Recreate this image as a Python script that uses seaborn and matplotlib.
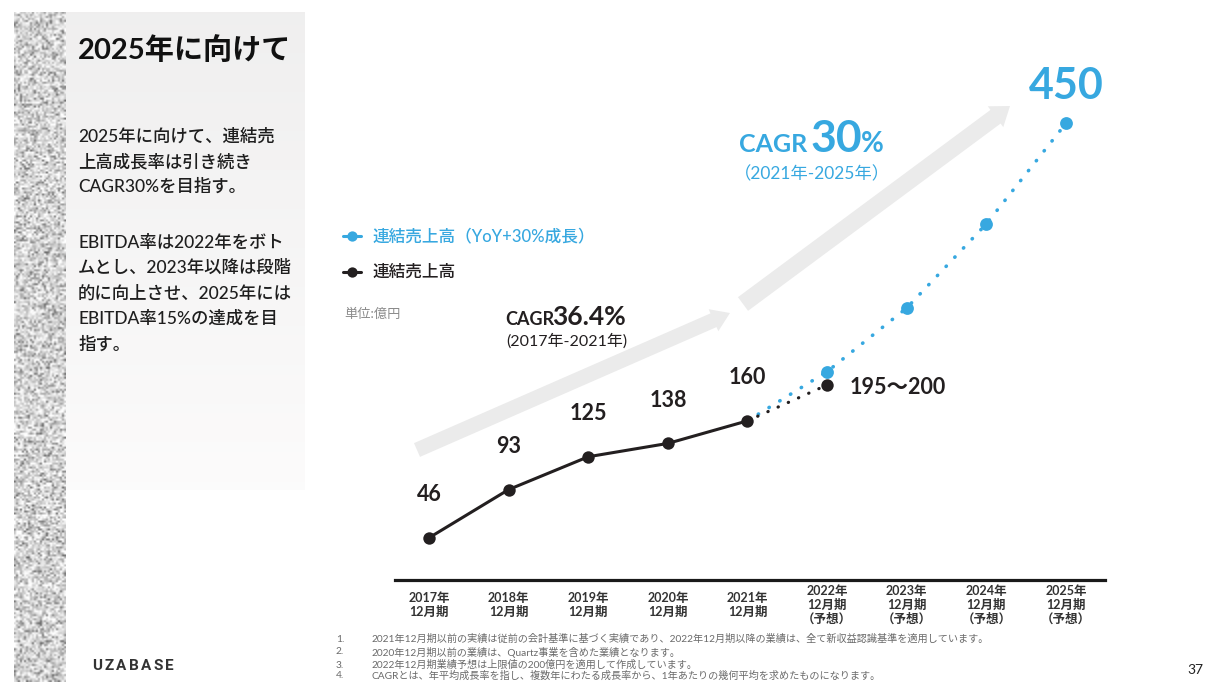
import numpy as np
import pandas as pd
import matplotlib
matplotlib.use("Agg")
import matplotlib.pyplot as plt
from matplotlib.patches import FancyArrow
import seaborn as sns

# ---- data -------------------------------------------------------------
periods = ["2017年\n12月期", "2018年\n12月期", "2019年\n12月期", "2020年\n12月期",
           "2021年\n12月期", "2022年\n12月期\n（予想）", "2023年\n12月期\n（予想）",
           "2024年\n12月期\n（予想）", "2025年\n12月期\n（予想）"]
actual_pos = [0, 1, 2, 3, 4]
actual_sales = [46, 93, 125, 138, 160]
forecast_pos = [4, 5]
forecast_sales = [160, 195]
forecast_label = "195～200"
plan_pos = [4, 5, 6, 7, 8]
plan_sales = [160, 208, 270, 352, 450]

BLUE = "#37a8e0"
BLACK = "#231f20"

sns.set_theme(style="white")
plt.rcParams["font.family"] = ["Lato", "Noto Sans CJK JP", "DejaVu Sans"]

W, H = 1207, 682
fig = plt.figure(figsize=(W / 100, H / 100), dpi=100)
fig.patch.set_facecolor("white")

# background layer in pixel units
bg = fig.add_axes([0, 0, 1, 1], zorder=0)
bg.set_xlim(0, W)
bg.set_ylim(H, 0)
bg.axis("off")

# speckled side strip
rng = np.random.default_rng(11)
tex = 0.85 + 0.13 * rng.standard_normal((336, 26))
dark = rng.random((336, 26)) < 0.10
tex[dark] = 0.40 + 0.25 * rng.random(dark.sum())
tex = np.clip(tex, 0, 1)
bg.imshow(tex, cmap="gray", vmin=0, vmax=1, extent=[14, 66, H, 12],
          interpolation="bilinear", aspect="auto", zorder=1)

# light text panel
grad = np.linspace(0.940, 0.988, 200)[:, None] * np.ones((200, 2))
bg.imshow(np.dstack([grad, grad * 0.997, grad * 0.997]), extent=[66, 305, 490, 12],
          aspect="auto", zorder=1)

# growth arrows
for (x0, y0, x1, y1, w) in [(417, 450, 730, 313, 15), (743, 304, 1010, 106, 17)]:
    bg.add_patch(FancyArrow(x0, y0, x1 - x0, y1 - y0, width=w, head_width=w + 9,
                            head_length=18, length_includes_head=True,
                            color="#ebebeb", lw=0, zorder=2))

# panel text
bg.text(78, 50, "2025年に向けて", fontsize=21, fontweight="bold", color="#111111",
        va="center", ha="left", zorder=3)
body = [(137, "2025年に向けて、連結売"), (162, "上高成長率は引き続き"),
        (187, "CAGR30%を目指す。"), (243, "EBITDA率は2022年をボト"),
        (268, "ムとし、2023年以降は段階"), (294, "的に向上させ、2025年には"),
        (319, "EBITDA率15%の達成を目"), (345, "指す。")]
for y, s in body:
    bg.text(78, y, s, fontsize=12.5, fontweight="medium", color="#1e1e1e",
            va="center", ha="left", zorder=3)

# legend
for y, c, lab in [(236, BLUE, "連結売上高（YoY+30%成長）"), (272, BLACK, "連結売上高")]:
    bg.plot([343, 361], [y, y], color=c, lw=2.2, solid_capstyle="round", zorder=3)
    bg.scatter([352], [y], s=55, color=c, zorder=4, linewidths=0)
    bg.text(372, y, lab, fontsize=12, fontweight="medium", color=c,
            va="center", ha="left", zorder=3)
bg.text(344, 314, "単位:億円", fontsize=9.5, color="#8a8a8a", va="center", ha="left", zorder=3)

# CAGR callouts
bg.text(505, 325, "CAGR", fontsize=13, fontweight="bold", color=BLACK, va="baseline", zorder=3)
bg.text(552, 325, "36.4%", fontsize=19, fontweight="bold", color=BLACK, va="baseline", zorder=3)
bg.text(567, 341, "(2017年-2021年)", fontsize=11.5, color=BLACK, va="center", ha="center", zorder=3)
bg.text(739, 152, "CAGR", fontsize=18, fontweight="bold", color=BLUE, va="baseline", zorder=3)
bg.text(810, 152, "30", fontsize=32, fontweight="bold", color=BLUE, va="baseline", zorder=3)
bg.text(861, 152, "%", fontsize=20, fontweight="bold", color=BLUE, va="baseline", zorder=3)
bg.text(812, 174, "（2021年-2025年）", fontsize=12.5, color=BLUE, va="center", ha="center", zorder=3)

# footnotes
notes = ["2021年12月期以前の実績は従前の会計基準に基づく実績であり、2022年12月期以降の業績は、全て新収益認識基準を適用しています。",
         "2020年12月期以前の業績は、Quartz事業を含めた業績となります。",
         "2022年12月期業績予想は上限値の200億円を適用して作成しています。",
         "CAGRとは、年平均成長率を指し、複数年にわたる成長率から、1年あたりの幾何平均を求めたものになります。"]
for i, (y, s) in enumerate(zip([639, 652, 665, 676], notes)):
    bg.text(336, y, f"{i + 1}.", fontsize=7.3, color="#6a6a6a", va="center", zorder=3)
    bg.text(372, y, s, fontsize=7.3, color="#6a6a6a", va="center", zorder=3)

bg.text(1195, 670, "37", fontsize=10, color="#222222", va="center", ha="center", zorder=3)
for i, ch in enumerate("UZABASE"):
    bg.text(92 + i * 12.2, 666, ch, fontsize=11, fontweight="bold", family="Roboto",
            color="#333333", va="center", ha="left", zorder=3)

# ---- chart ----------------------------------------------------------------
ax = fig.add_axes([395 / W, (H - 580) / H, 710 / W, 520 / H], zorder=1)
ax.patch.set_alpha(0)
ax.set_xlim(-0.427, 8.49)
ax.set_ylim(4.87, 511.7)

dotted = dict(linestyle=(0, (0.1, 3.4)), dash_capstyle="round")
sns.lineplot(x=plan_pos, y=plan_sales, ax=ax, color=BLUE, linewidth=2.6, **dotted)
sns.lineplot(x=forecast_pos, y=forecast_sales, ax=ax, color=BLACK, linewidth=2.3, **dotted)
sns.lineplot(x=actual_pos, y=actual_sales, ax=ax, color=BLACK, linewidth=2.2)
sns.scatterplot(x=plan_pos[1:], y=plan_sales[1:], ax=ax, color=BLUE, s=85,
                linewidth=0, zorder=4)
sns.scatterplot(x=actual_pos + forecast_pos[1:], y=actual_sales + forecast_sales[1:],
                ax=ax, color=BLACK, s=80, linewidth=0, zorder=5)

for x, v in zip(actual_pos, actual_sales):
    ax.annotate(str(v), (x, v), xytext=(0, 31), textcoords="offset points",
                ha="center", va="center", fontsize=15.5, fontweight="bold", color=BLACK)
ax.annotate(forecast_label, (forecast_pos[1], forecast_sales[1]), xytext=(16, -2),
            textcoords="offset points", ha="left", va="center", fontsize=15.5,
            fontweight="bold", color=BLACK)
ax.annotate(str(plan_sales[-1]), (plan_pos[-1], plan_sales[-1]), xytext=(0, 27),
            textcoords="offset points", ha="center", va="center", fontsize=31,
            fontweight="bold", color=BLUE)

ax.set_xticks(range(len(periods)))
ax.set_xticklabels(periods, fontsize=9, fontweight="bold", color="#333333", linespacing=1.15)
for lab in ax.get_xticklabels():
    lab.set_va("center")
ax.tick_params(axis="x", length=0, pad=18)
ax.set_yticks([])
ax.set_xlabel("")
ax.set_ylabel("")
for side in ["left", "right", "top"]:
    ax.spines[side].set_visible(False)
ax.spines["bottom"].set_linewidth(2.3)
ax.spines["bottom"].set_color("#1a1a1a")

fig.savefig("out.png", dpi=100)
